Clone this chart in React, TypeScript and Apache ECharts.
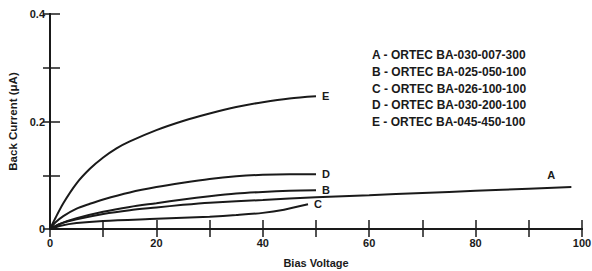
import React, { useEffect, useRef } from "react";
import * as echarts from "echarts";

const xTicks = [0, 20, 40, 60, 80, 100];
const yTicks = [0, 0.2, 0.4];

const seriesA = [[0, 0], [2, 0.01], [5, 0.018], [10, 0.028], [15, 0.035], [20, 0.04], [25, 0.045], [30, 0.049], [40, 0.054], [50, 0.059], [60, 0.063], [70, 0.067], [80, 0.071], [90, 0.075], [98, 0.078]];
const seriesB = [[0, 0], [2, 0.01], [5, 0.02], [10, 0.032], [15, 0.041], [20, 0.048], [25, 0.055], [30, 0.061], [35, 0.066], [40, 0.069], [45, 0.071], [50, 0.072]];
const seriesC = [[0, 0], [2, 0.006], [5, 0.011], [10, 0.015], [20, 0.019], [25, 0.021], [30, 0.023], [35, 0.026], [40, 0.03], [44, 0.036], [48.5, 0.046]];
const seriesD = [[0, 0], [1, 0.012], [2.5, 0.024], [5, 0.038], [7.5, 0.047], [10, 0.055], [15, 0.068], [20, 0.078], [25, 0.086], [30, 0.093], [35, 0.098], [40, 0.101], [45, 0.102], [50, 0.102]];
const seriesE = [[0, 0], [1, 0.02], [2.5, 0.048], [5, 0.085], [7.5, 0.112], [10, 0.133], [12.5, 0.15], [15, 0.163], [20, 0.184], [25, 0.201], [30, 0.215], [35, 0.227], [40, 0.236], [45, 0.243], [50, 0.247]];

const curveNames = ["A", "B", "C", "D", "E"];
const legendLines = [
  "A - ORTEC BA-030-007-300",
  "B - ORTEC BA-025-050-100",
  "C - ORTEC BA-026-100-100",
  "D - ORTEC BA-030-200-100",
  "E - ORTEC BA-045-450-100",
];

const FONT = "Liberation Sans";
const INK = "#1a1a1a";

export default function App() {
  const ref = useRef<HTMLDivElement>(null);
  useEffect(() => {
    if (!ref.current) return;
    const chart = echarts.init(ref.current, undefined, { renderer: "svg" });
    const datas = [seriesA, seriesB, seriesC, seriesD, seriesE];
    const mkSeries = (name: string, data: number[][]) => ({
      type: "line",
      name,
      data: data.map((p) => [p[0], p[1]]),
      smooth: 0.3,
      showSymbol: false,
      symbol: "none",
      lineStyle: { color: INK, width: 2 },
      xAxisIndex: 0,
      yAxisIndex: 0,
      endLabel: {
        show: true,
        formatter: name,
        color: INK,
        fontFamily: FONT,
        fontWeight: "bold",
        fontSize: 11,
        distance: 6,
        offset: name === "A" ? [-30, -12] : [0, 0],
      },
    });
    const axisLabelStyle = { color: INK, fontFamily: FONT, fontWeight: "bold", fontSize: 11 };
    chart.setOption({
      animation: false,
      grid: { left: 50, right: 10, top: 14, bottom: 42, outerBoundsMode: "none", containLabel: false },
      xAxis: [
        {
          type: "value",
          min: 0,
          max: 100,
          interval: 10,
          position: "bottom",
          name: "Bias Voltage",
          nameLocation: "middle",
          nameGap: 28,
          nameTextStyle: { color: INK, fontFamily: FONT, fontWeight: "bold", fontSize: 11 },
          axisLine: { show: true, lineStyle: { color: INK, width: 2 } },
          axisTick: { show: true, inside: true, length: 9, lineStyle: { color: INK, width: 1.5 } },
          axisLabel: {
            ...axisLabelStyle,
            margin: 8,
            formatter: (v: number) => (xTicks.includes(v) ? String(v) : ""),
          },
          splitLine: { show: false },
        },
        {
          type: "value",
          min: 0,
          max: 100,
          interval: 10,
          position: "top",
          axisLine: { show: true, lineStyle: { color: INK, width: 2 } },
          axisTick: { show: true, inside: true, length: 8, lineStyle: { color: INK, width: 1.5 } },
          axisLabel: { show: false },
          splitLine: { show: false },
        },
      ],
      yAxis: [
        {
          type: "value",
          min: 0,
          max: 0.4,
          interval: 0.1,
          position: "left",
          name: "Back Current (μA)",
          nameLocation: "middle",
          nameGap: 23,
          nameTextStyle: { color: INK, fontFamily: FONT, fontWeight: "bold", fontSize: 11.5 },
          axisLine: { show: true, lineStyle: { color: INK, width: 2 } },
          axisTick: { show: true, inside: true, length: 10, lineStyle: { color: INK, width: 1.5 } },
          axisLabel: {
            ...axisLabelStyle,
            margin: 5,
            formatter: (v: number) => {
              const r = Math.round(v * 10) / 10;
              return yTicks.includes(r) ? String(r) : "";
            },
          },
          splitLine: { show: false },
        },
        {
          type: "value",
          min: 0,
          max: 0.4,
          interval: 0.1,
          position: "right",
          axisLine: { show: true, lineStyle: { color: INK, width: 2 } },
          axisTick: { show: true, inside: true, length: 7, lineStyle: { color: INK, width: 1.5 } },
          axisLabel: { show: false },
          splitLine: { show: false },
        },
      ],
      graphic: [
        {
          type: "group",
          left: 372,
          top: 49,
          children: legendLines.map((t, i) => ({
            type: "text",
            x: 0,
            y: i * 16.8,
            style: {
              text: t,
              fill: INK,
              font: `bold 12px "${FONT}"`,
            },
          })),
        },
      ],
      series: curveNames.map((n, i) => mkSeries(n, datas[i])),
    });
    return () => chart.dispose();
  }, []);
  return (
    <div
      ref={ref}
      style={{ position: "fixed", left: 0, top: 0, width: 592, height: 271, background: "#fff" }}
    />
  );
}
